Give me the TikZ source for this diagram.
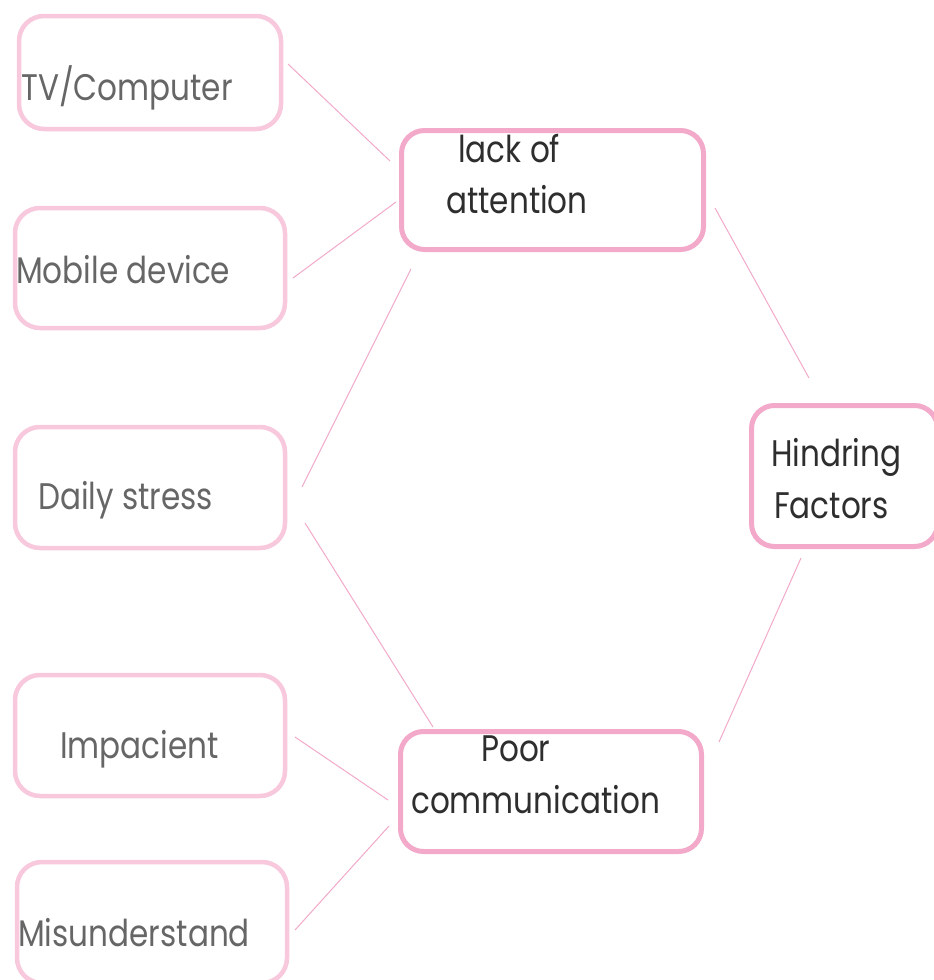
\documentclass[tikz,border=0pt]{standalone}
\usepackage{fontspec}
\setmainfont{Poppins}[FakeStretch=0.84]
\begin{document}
\begin{tikzpicture}[x=1pt,y=-1pt,
  leafbox/.style={draw=leafpink,line width=4.5pt,rounded corners=25pt,inner sep=0pt},
  midbox/.style={draw=midpink,line width=5pt,rounded corners=23pt,inner sep=0pt},
  leaftxt/.style={anchor=base west,inner sep=0pt,text=leafgray,font=\fontsize{37}{42}\selectfont},
  midtxt/.style={anchor=base west,inner sep=0pt,text=midgray,font=\fontsize{37}{42}\selectfont},
  link/.style={draw=midpink,line width=1pt}]
\definecolor{leafpink}{HTML}{F8C8DD}
\definecolor{midpink}{HTML}{F2A9CA}
\definecolor{leafgray}{HTML}{666666}
\definecolor{midgray}{HTML}{2E2E2E}
\useasboundingbox[fill=white] (0,0) rectangle (934,980);
% boxes
\node[leafbox,minimum width=262pt,minimum height=113pt] (tv) at (150,72.5) {};
\node[leafbox,minimum width=270pt,minimum height=120pt] (mob) at (150,268) {};
\node[leafbox,minimum width=270pt,minimum height=121pt] (daily) at (150,487.5) {};
\node[leafbox,minimum width=270pt,minimum height=121pt] (imp) at (150,735.5) {};
\node[leafbox,minimum width=270pt,minimum height=121pt] (mis) at (152,922.5) {};
\node[midbox,minimum width=302pt,minimum height=119pt] (lack) at (552.5,190) {};
\node[midbox,minimum width=301pt,minimum height=120pt] (poor) at (551,791.5) {};
\node[midbox,minimum width=186pt,minimum height=141pt] (hind) at (844.5,476) {};
% texts
\node[leaftxt] (tvt) at (21,100) {TV/Computer};
\node[leaftxt] (mobt) at (16,283) {Mobile device};
\node[leaftxt] (dailyt) at (38,509) {Daily stress};
\node[leaftxt] (impt) at (60,758) {Impacient};
\node[leaftxt] (mist) at (18,946) {Misunderstand};
\node[midtxt] (lackt1) at (458,162) {lack of};
\node[midtxt] (lackt2) at (446,213) {attention};
\node[midtxt] (poort1) at (481,761) {Poor};
\node[midtxt] (poort2) at (411,813) {communication};
\node[midtxt] (hindt1) at (771,466) {Hindring};
\node[midtxt] (hindt2) at (774,518) {Factors};
% connector ends
\coordinate (tvE) at (288,64);   \coordinate (lackA) at (390,161);
\coordinate (mobE) at (293,278); \coordinate (lackB) at (396,202);
\coordinate (dailyE1) at (302,487); \coordinate (lackC) at (411,269);
\coordinate (dailyE2) at (305,523); \coordinate (poorA) at (433,727);
\coordinate (impE) at (295,737); \coordinate (poorB) at (388,800);
\coordinate (misE) at (295,930); \coordinate (poorC) at (389,826);
\coordinate (lackE) at (715,208); \coordinate (hindA) at (809,378);
\coordinate (hindB) at (801,558); \coordinate (poorE) at (719,742);
\draw[link] (tvE) -- (lackA);
\draw[link] (mobE) -- (lackB);
\draw[link] (dailyE1) -- (lackC);
\draw[link] (dailyE2) -- (poorA);
\draw[link] (impE) -- (poorB);
\draw[link] (misE) -- (poorC);
\draw[link] (lackE) -- (hindA);
\draw[link] (hindB) -- (poorE);
\end{tikzpicture}
\end{document}
